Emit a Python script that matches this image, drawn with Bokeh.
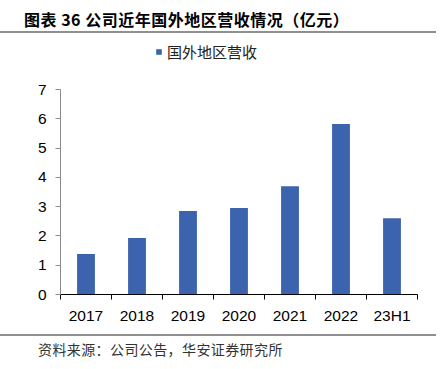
from bokeh.plotting import figure
from bokeh.layouts import column
from bokeh.models import (FixedTicker, Legend, LegendItem, ColumnDataSource, Div)
from bokeh.embed import file_html
from bokeh.resources import INLINE

categories = ["2017", "2018", "2019", "2020", "2021", "2022", "23H1"]
revenue = [1.38, 1.93, 2.85, 2.95, 3.70, 5.82, 2.60]
series_name = "国外地区营收"
title_text = "图表 36 公司近年国外地区营收情况（亿元）"
source_text = "资料来源：公司公告，华安证券研究所"
y_ticks = [0, 1, 2, 3, 4, 5, 6, 7]

W = 436
BAR_COLOR = "#3C63AD"
xs = [i + 0.5 for i in range(len(categories))]
src = ColumnDataSource(dict(x=xs, top=revenue, cat=categories))

title_div = Div(text=title_text, width=W - 24, height=23, margin=0,
                styles={"font-family": "'Noto Sans CJK SC'", "font-weight": "bold",
                        "font-size": "16px", "color": "black", "padding-left": "24px",
                        "padding-top": "8px", "letter-spacing": "0.5px",
                        "line-height": "22px", "border-bottom": "2px solid #8f8f8f",
                        "box-sizing": "content-box", "white-space": "nowrap"})

# legend strip (its own small frame so the legend is not clipped);
# the proxy renderer is hidden, only its legend entry is shown
lg = figure(width=W, height=37, x_range=(0, len(categories)), y_range=(-20, -19),
            output_backend="svg", toolbar_location=None, margin=0,
            min_border=0, min_border_left=60, min_border_right=19,
            min_border_top=0, min_border_bottom=0)
lg.axis.visible = False
lg.grid.visible = False
lg.outline_line_color = None
lr = lg.vbar(x="x", top="top", width=0.35, bottom=0, source=src,
             fill_color=BAR_COLOR, line_color=None)
lr.visible = False
legend = Legend(items=[LegendItem(label=series_name, renderers=[lr])],
                location=(95, 8), orientation="horizontal",
                glyph_width=7, glyph_height=7, label_height=18,
                label_text_font="Noto Sans CJK SC",
                label_text_font_size="15px", label_text_color="#222222",
                border_line_color=None, background_fill_alpha=0, padding=0, spacing=0,
                label_standoff=5, margin=0, inactive_fill_alpha=0)
lg.add_layout(legend, "center")

p = figure(width=W, height=264, x_range=(0, len(categories)), y_range=(0, 7),
           output_backend="svg", toolbar_location=None, margin=0,
           min_border_left=60, min_border_right=19, min_border_top=19, min_border_bottom=40)
p.outline_line_color = None
p.grid.visible = False

p.vbar(x="x", top="top", width=0.35, bottom=0, source=src,
       fill_color=BAR_COLOR, line_color=None)

# x axis: labels at category centres, ticks at category boundaries
p.xaxis.ticker = FixedTicker(ticks=xs, minor_ticks=list(range(len(categories) + 1)))
p.xaxis.major_label_overrides = {x: c for x, c in zip(xs, categories)}
p.xaxis.major_tick_out = 0
p.xaxis.major_tick_in = 0
p.xaxis.minor_tick_out = 5
p.xaxis.minor_tick_in = 0
p.xaxis.minor_tick_line_color = "black"
p.xaxis.axis_line_color = "black"
p.xaxis.major_label_text_font = "Liberation Sans"
p.xaxis.major_label_text_font_size = "15.5px"
p.xaxis.major_label_text_color = "black"
p.xaxis.major_label_standoff = 7

# y axis
p.yaxis.ticker = FixedTicker(ticks=y_ticks)
p.yaxis.major_tick_out = 5
p.yaxis.major_tick_in = 0
p.yaxis.minor_tick_line_color = None
p.yaxis.axis_line_color = "#8c8c8c"
p.yaxis.major_tick_line_color = "#8c8c8c"
p.yaxis.major_label_text_font = "Liberation Sans"
p.yaxis.major_label_text_font_size = "15.5px"
p.yaxis.major_label_text_color = "black"
p.yaxis.major_label_standoff = 9

source_div = Div(text=source_text, width=W - 38, height=23, margin=0,
                 styles={"font-family": "'Noto Sans CJK SC'", "font-size": "14px",
                         "color": "#333333", "padding-left": "38px", "padding-top": "4px",
                         "letter-spacing": "0.4px",
                         "line-height": "18px", "border-top": "2px solid #8f8f8f",
                         "box-sizing": "content-box", "white-space": "nowrap"})

layout = column(title_div, lg, p, source_div, spacing=0)
open("out.html", "w").write(file_html(layout, INLINE))
